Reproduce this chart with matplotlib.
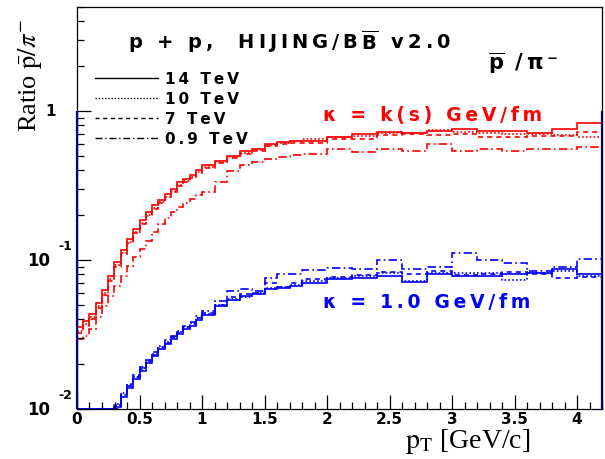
import numpy as np
import matplotlib
matplotlib.use("Agg")
import matplotlib.pyplot as plt
from matplotlib.lines import Line2D
from matplotlib.ticker import MultipleLocator, LogLocator, FuncFormatter, NullFormatter
from matplotlib import transforms as mtrans

plt.rcParams['mathtext.fontset'] = 'stix'

# ---------------- data ----------------
edges = [0.0, 0.05, 0.1, 0.15, 0.2, 0.25, 0.3, 0.35, 0.4, 0.45, 0.5,
         0.55, 0.6, 0.65, 0.7, 0.75, 0.8, 0.85, 0.9, 0.95, 1.0,
         1.1, 1.2, 1.3, 1.4, 1.5, 1.6, 1.7, 1.8,
         2.0, 2.2, 2.4, 2.6, 2.8, 3.0, 3.2, 3.4, 3.6, 3.8, 4.0, 4.2]

energies = ["14 TeV", "10 TeV", "7 TeV", "0.9 TeV"]

red_14 = [0.0352, 0.0387, 0.0431, 0.0511, 0.0624, 0.0775, 0.0962, 0.116, 0.137, 0.160,
          0.184, 0.208, 0.232, 0.251, 0.275, 0.297, 0.331, 0.347, 0.369, 0.399,
          0.431, 0.458, 0.495, 0.535, 0.552, 0.596, 0.615, 0.624,
          0.627, 0.667, 0.703, 0.721, 0.706, 0.732, 0.751, 0.732, 0.732, 0.706, 0.751, 0.833]
red_10 = [0.0335, 0.0370, 0.0412, 0.0490, 0.0598, 0.0741, 0.0918, 0.111, 0.131, 0.154,
          0.176, 0.200, 0.224, 0.243, 0.266, 0.288, 0.318, 0.338, 0.360, 0.388,
          0.421, 0.450, 0.486, 0.522, 0.545, 0.586, 0.608, 0.630,
          0.644, 0.664, 0.677, 0.706, 0.706, 0.743, 0.721, 0.706, 0.695, 0.695, 0.685, 0.664]
red_7 = [0.0325, 0.0360, 0.0400, 0.0478, 0.0585, 0.0725, 0.0900, 0.109, 0.129, 0.151,
         0.173, 0.197, 0.220, 0.240, 0.262, 0.285, 0.314, 0.333, 0.355, 0.382,
         0.415, 0.444, 0.480, 0.515, 0.538, 0.578, 0.600, 0.610,
         0.612, 0.651, 0.651, 0.685, 0.695, 0.685, 0.695, 0.671, 0.671, 0.677, 0.677, 0.721]
red_09 = [0.0293, 0.0311, 0.0342, 0.0411, 0.0488, 0.0569, 0.0664, 0.0775, 0.0904, 0.104,
          0.118, 0.133, 0.153, 0.173, 0.190, 0.208, 0.225, 0.239, 0.255, 0.271,
          0.284, 0.331, 0.393, 0.431, 0.451, 0.472, 0.488, 0.503,
          0.516, 0.552, 0.529, 0.558, 0.537, 0.596, 0.537, 0.558, 0.537, 0.552, 0.558, 0.575]

blue_14 = [0.0030, 0.0038, 0.0048, 0.0060, 0.0072, 0.0088, 0.0103, 0.0121, 0.0139, 0.0158,
           0.0181, 0.0202, 0.0225, 0.0251, 0.0271, 0.0293, 0.0316, 0.0342, 0.0363, 0.0393,
           0.0424, 0.0488, 0.0535, 0.0569, 0.0587, 0.0634, 0.0644, 0.0664,
           0.0703, 0.0748, 0.0760, 0.0778, 0.0710, 0.0799, 0.0778, 0.0778, 0.0799, 0.0820, 0.0863, 0.0799]
blue_10 = [0.0031, 0.0040, 0.0050, 0.0062, 0.0075, 0.0091, 0.0106, 0.0125, 0.0144, 0.0163,
           0.0187, 0.0208, 0.0232, 0.0258, 0.0280, 0.0302, 0.0326, 0.0352, 0.0375, 0.0405,
           0.0435, 0.0500, 0.0550, 0.0560, 0.0600, 0.0650, 0.0660, 0.0680,
           0.0721, 0.0751, 0.0775, 0.0820, 0.0721, 0.0812, 0.0812, 0.0820, 0.0732, 0.0820, 0.0841, 0.0778]
blue_7 = [0.0032, 0.0041, 0.0051, 0.0063, 0.0076, 0.0092, 0.0100, 0.0126, 0.0142, 0.0165,
          0.0185, 0.0210, 0.0230, 0.0262, 0.0278, 0.0305, 0.0322, 0.0356, 0.0370, 0.0410,
          0.0440, 0.0495, 0.0560, 0.0590, 0.0600, 0.0700, 0.0660, 0.0700,
          0.0745, 0.0770, 0.0790, 0.0830, 0.0800, 0.0845, 0.0790, 0.0800, 0.0830, 0.0810, 0.0760, 0.0770]
blue_09 = [0.0033, 0.0042, 0.0052, 0.0064, 0.0078, 0.0094, 0.0108, 0.0128, 0.0147, 0.0168,
           0.0192, 0.0214, 0.0240, 0.0266, 0.0288, 0.0310, 0.0336, 0.0362, 0.0385, 0.0420,
           0.0451, 0.0529, 0.0618, 0.0634, 0.0615, 0.0751, 0.0799, 0.0799,
           0.0855, 0.0887, 0.0873, 0.0997, 0.0863, 0.0900, 0.1106, 0.0997, 0.0948, 0.0837, 0.0891, 0.1008]

red_series = [red_14, red_10, red_7, red_09]
blue_series = [blue_14, blue_10, blue_7, blue_09]

# ---------------- style ----------------
RED = "#ff0000"
BLUE = "#0000ff"
styles = ["-", (0, (1, 1.3)), (0, (3, 2.5)), (0, (5, 2, 1, 2))]
YMIN, YMAX = 0.01, 5.0
TS = "\u2009"   # thin space used as letter spacing

def spaced(s):
    return TS.join(s)

W, H = 605, 460
def fx(x):
    return x / W
def fy(y):
    return 1 - y / H

fig = plt.figure(figsize=(6.05, 4.6), dpi=100)
fig.patch.set_facecolor("white")
ax = fig.add_axes([fx(77), 50 / H, (602 - 77) / W, (410 - 7.5) / H])
ax.set_yscale("log")
ax.set_xlim(edges[0], edges[-1])
ax.set_ylim(YMIN, YMAX)

for vals, ls in zip(red_series, styles):
    ax.stairs(np.clip(vals, YMIN, None), edges, color=RED, linestyle=ls,
              linewidth=1.2, baseline=None, clip_on=False)
for vals, ls in zip(blue_series, styles):
    ax.stairs(np.clip(vals, YMIN, None), edges, color=BLUE, linestyle=ls,
              linewidth=1.2, baseline=None, clip_on=False)
ax.vlines([edges[0], edges[-1]], YMIN, 1.0, color=BLUE, linewidth=1.6, clip_on=False)

# axes / ticks
for sp in ax.spines.values():
    sp.set_linewidth(0.9)
ax.xaxis.set_major_locator(MultipleLocator(0.5))
ax.xaxis.set_minor_locator(MultipleLocator(0.1))
ax.xaxis.set_major_formatter(FuncFormatter(lambda v, p: f"{v:g}"))
ax.yaxis.set_major_locator(LogLocator(base=10))
ax.yaxis.set_minor_locator(LogLocator(base=10, subs=np.arange(2, 10)))
ax.yaxis.set_minor_formatter(NullFormatter())
ax.tick_params(which="both", direction="in", top=False, right=False, width=0.9)
ax.tick_params(which="major", length=10)
ax.tick_params(which="minor", length=5)
ax.tick_params(axis="x", pad=1.5, labelsize=11)
ax.tick_params(axis="y", labelleft=False)
for lab in ax.get_xticklabels():
    lab.set_fontweight("bold")

# y tick labels, ROOT style
trans = mtrans.blended_transform_factory(fig.transFigure, ax.transData)
trans_up = mtrans.offset_copy(trans, fig=fig, x=0, y=14, units="dots")
fig.text(fx(56), 1.0, "1", transform=trans, ha="right", va="center",
         fontsize=11, fontweight="bold")
for val, ex in [(0.1, "-1"), (0.01, "-2")]:
    fig.text(fx(50), val, "10", transform=trans, ha="right", va="center",
             fontsize=12, fontweight="bold")
    fig.text(fx(58), val, ex, transform=trans_up, ha="left", va="center",
             fontsize=9, fontweight="bold")

# axis titles
fig.text(fx(405), fy(448), r"$\mathrm{p_{T}}$ [GeV/c]", family="Liberation Serif",
         fontsize=20, ha="left", va="baseline")
fig.text(fx(30), fy(19), r"Ratio $\bar{\mathrm{p}}/\pi^{-}$", family="Liberation Serif",
         fontsize=19, rotation=90, ha="center", va="top")

# annotations
title = spaced("p + p,  HIJING/B") + TS + r"$\overline{\mathbf{B}}$" + TS + spaced(" v2.0")
fig.text(fx(128), fy(42), title, fontsize=14, fontweight="bold",
         math_fontfamily="dejavusans", ha="left", va="center")
fig.text(fx(488), fy(63), r"$\overline{\mathbf{p}}$" + TS + " " + spaced("/\u03c0\u207b"),
         fontsize=15, fontweight="bold", math_fontfamily="dejavusans",
         ha="left", va="center")
fig.text(fx(323), fy(115), spaced("\u03ba = k(s) GeV/fm"), fontsize=13.5,
         fontweight="bold", color=RED, ha="left", va="center")
fig.text(fx(323), fy(303), spaced("\u03ba = 1.0 GeV/fm"), fontsize=13.5,
         fontweight="bold", color=BLUE, ha="left", va="center")

handles = [Line2D([], [], color="black", linestyle=ls, linewidth=1.0) for ls in styles]
fig.legend(handles, [spaced(e) for e in energies], loc="upper left",
           bbox_to_anchor=(fx(95), fy(72)), frameon=False, borderpad=0,
           borderaxespad=0, handlelength=4.1, handletextpad=0.45, labelspacing=0.33,
           prop={"weight": "bold", "size": 11})

fig.savefig("out.png", dpi=100)
